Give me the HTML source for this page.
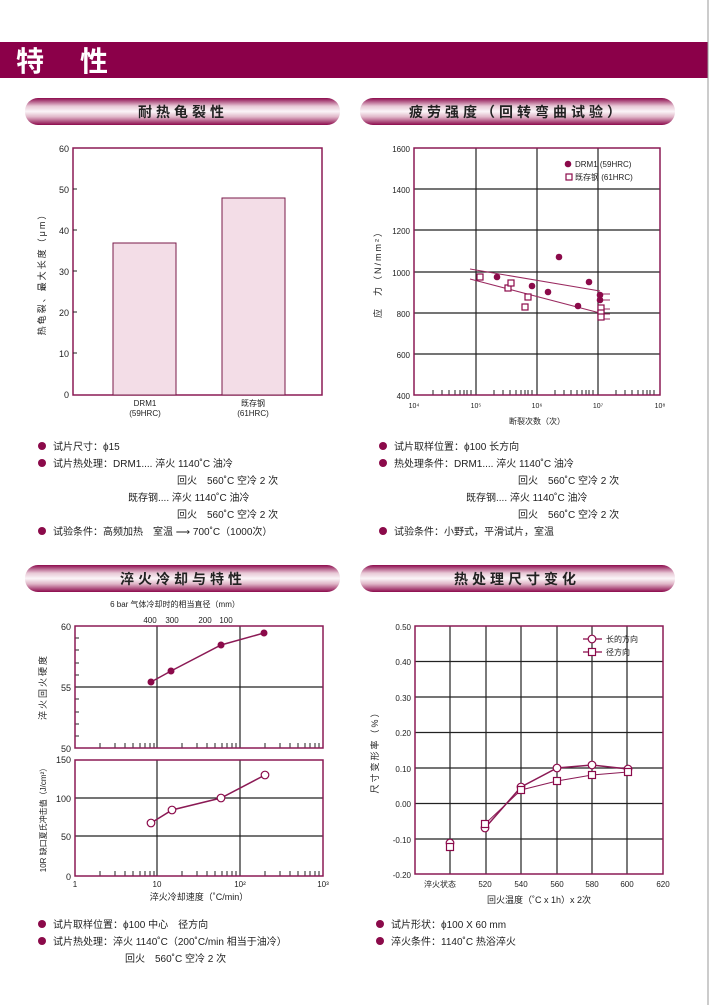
<html><head><style>body{margin:0;background:#fff}svg{display:block;font-family:"Liberation Sans","Noto Sans CJK SC",sans-serif}</style></head><body>
<svg width="710" height="1005" viewBox="0 0 710 1005">
<defs><linearGradient id="pg" x1="0" y1="0" x2="0" y2="1"><stop offset="0" stop-color="#8c0a4c"/><stop offset="0.3" stop-color="#e8c8d6"/><stop offset="0.5" stop-color="#fbf5f8"/><stop offset="0.7" stop-color="#e0b6c8"/><stop offset="1" stop-color="#8c0a4c"/></linearGradient></defs>
<rect x="0" y="42" width="708" height="36" fill="#8b0049"/>
<line x1="708" y1="0" x2="708" y2="1005" stroke="#999" stroke-width="1"/>
<text x="16" y="71" font-size="28" font-weight="bold" fill="#fff">特</text><text x="80" y="71" font-size="28" font-weight="bold" fill="#fff">性</text>
<g font-size="14" font-weight="bold" fill="#222" text-anchor="middle" letter-spacing="4">
<rect x="25" y="98" width="315" height="27" rx="13" fill="url(#pg)"/><text x="183" y="117">耐热龟裂性</text>
<rect x="360" y="98" width="315" height="27" rx="13" fill="url(#pg)"/><text x="517" y="117">疲劳强度（回转弯曲试验）</text>
<rect x="25" y="565" width="315" height="27" rx="13" fill="url(#pg)"/><text x="183" y="584">淬火冷却与特性</text>
<rect x="360" y="565" width="315" height="27" rx="13" fill="url(#pg)"/><text x="517" y="584">热处理尺寸变化</text>
</g>
<!-- chart1 -->
<g font-size="9" fill="#222">
<rect x="73" y="148" width="249" height="247" fill="none" stroke="#8b1a55" stroke-width="1.5"/>
<rect x="113" y="243" width="63" height="152" fill="#f3dde7" stroke="#7a1a4a"/>
<rect x="222" y="198" width="63" height="197" fill="#f3dde7" stroke="#7a1a4a"/>
<g text-anchor="end"><text x="69" y="152">60</text><text x="69" y="193">50</text><text x="69" y="234">40</text><text x="69" y="275">30</text><text x="69" y="316">20</text><text x="69" y="357">10</text><text x="69" y="398">0</text></g>
<g stroke="#222"><line x1="73" y1="189" x2="77" y2="189"/><line x1="73" y1="230" x2="77" y2="230"/><line x1="73" y1="271" x2="77" y2="271"/><line x1="73" y1="312" x2="77" y2="312"/><line x1="73" y1="353" x2="77" y2="353"/></g>
<text transform="translate(45,272) rotate(-90)" text-anchor="middle" font-size="9" letter-spacing="2">热龟裂、最大长度（μm）</text>
<g text-anchor="middle" font-size="8"><text x="145" y="406">DRM1</text><text x="145" y="416">(59HRC)</text><text x="253" y="406">既存钢</text><text x="253" y="416">(61HRC)</text></g>
</g>
<!-- chart2 -->
<g font-size="9" fill="#222">
<g stroke="#222" stroke-width="1.2"><line x1="414" y1="189" x2="660" y2="189"/><line x1="414" y1="230" x2="660" y2="230"/><line x1="414" y1="272" x2="660" y2="272"/><line x1="414" y1="313" x2="660" y2="313"/><line x1="414" y1="354" x2="660" y2="354"/><line x1="476" y1="148" x2="476" y2="395"/><line x1="537" y1="148" x2="537" y2="395"/><line x1="598" y1="148" x2="598" y2="395"/></g>
<g stroke="#222"><path d="M433 395v-5M442 395v-5M449 395v-5M455 395v-5M460 395v-5M464 395v-5M467 395v-5M471 395v-5M494 395v-5M503 395v-5M510 395v-5M516 395v-5M521 395v-5M525 395v-5M528 395v-5M532 395v-5M555 395v-5M564 395v-5M571 395v-5M577 395v-5M582 395v-5M586 395v-5M589 395v-5M593 395v-5M616 395v-5M625 395v-5M632 395v-5M638 395v-5M643 395v-5M647 395v-5M650 395v-5M654 395v-5"/></g>
<rect x="414" y="148" width="246" height="247" fill="none" stroke="#8b1a55" stroke-width="1.5"/>
<g text-anchor="end" font-size="8"><text x="410" y="152">1600</text><text x="410" y="193">1400</text><text x="410" y="234">1200</text><text x="410" y="276">1000</text><text x="410" y="317">800</text><text x="410" y="358">600</text><text x="410" y="399">400</text></g>
<g text-anchor="middle" font-size="7"><text x="414" y="408">10⁴</text><text x="476" y="408">10⁵</text><text x="537" y="408">10⁶</text><text x="598" y="408">10⁷</text><text x="660" y="408">10⁸</text></g>
<text x="537" y="424" text-anchor="middle" font-size="8">断裂次数（次）</text>
<text transform="translate(381,272) rotate(-90)" text-anchor="middle" letter-spacing="2">应　力（N/mm²）</text>
<g stroke="#9a2a60" fill="none"><line x1="470" y1="269" x2="600" y2="291"/><line x1="470" y1="279" x2="600" y2="313"/><path d="M600 294h10M600 300h10M600 309h10M600 314h10M600 319h10"/></g>
<g fill="#8b0a4a"><circle cx="497" cy="277" r="3.3"/><circle cx="532" cy="286" r="3.3"/><circle cx="548" cy="292" r="3.3"/><circle cx="559" cy="257" r="3.3"/><circle cx="578" cy="306" r="3.3"/><circle cx="589" cy="282" r="3.3"/><circle cx="600" cy="295" r="3.3"/><circle cx="600" cy="300" r="3.3"/><circle cx="568" cy="164" r="3.3"/></g>
<g fill="#fff" stroke="#8b0a4a" stroke-width="1.2"><rect x="477" y="274" width="6" height="6"/><rect x="505" y="285" width="6" height="6"/><rect x="508" y="280" width="6" height="6"/><rect x="525" y="294" width="6" height="6"/><rect x="522" y="304" width="6" height="6"/><rect x="598" y="305" width="6" height="6"/><rect x="598" y="310" width="6" height="6"/><rect x="598" y="314" width="6" height="6"/><rect x="566" y="174" width="6" height="6"/></g>
<text x="575" y="167" font-size="8">DRM1 (59HRC)</text><text x="575" y="180" font-size="8">既存钢 (61HRC)</text>
</g>
<!-- bullets -->
<g font-size="10" fill="#222">
<g fill="#8b0a4a"><circle cx="42" cy="446" r="4"/><circle cx="42" cy="463" r="4"/><circle cx="42" cy="531" r="4"/><circle cx="383" cy="446" r="4"/><circle cx="383" cy="463" r="4"/><circle cx="383" cy="531" r="4"/><circle cx="42" cy="924" r="4"/><circle cx="42" cy="941" r="4"/><circle cx="380" cy="924" r="4"/><circle cx="380" cy="941" r="4"/></g>
<text x="53" y="450">试片尺寸：ϕ15</text>
<text x="53" y="467">试片热处理：DRM1.... 淬火 1140˚C 油冷</text>
<text x="177" y="484">回火　560˚C 空冷 2 次</text>
<text x="128" y="501">既存钢.... 淬火 1140˚C 油冷</text>
<text x="177" y="518">回火　560˚C 空冷 2 次</text>
<text x="53" y="535">试验条件：高频加热　室温 ⟶ 700˚C（1000次）</text>
<text x="394" y="450">试片取样位置：ϕ100 长方向</text>
<text x="394" y="467">热处理条件：DRM1.... 淬火 1140˚C 油冷</text>
<text x="518" y="484">回火　560˚C 空冷 2 次</text>
<text x="466" y="501">既存钢.... 淬火 1140˚C 油冷</text>
<text x="518" y="518">回火　560˚C 空冷 2 次</text>
<text x="394" y="535">试验条件：小野式，平滑试片，室温</text>
<text x="53" y="928">试片取样位置：ϕ100 中心　径方向</text>
<text x="53" y="945">试片热处理：淬火 1140˚C（200˚C/min 相当于油冷）</text>
<text x="125" y="962">回火　560˚C 空冷 2 次</text>
<text x="391" y="928">试片形状：ϕ100 X 60 mm</text>
<text x="391" y="945">淬火条件：1140˚C 热浴淬火</text>
</g>
<!-- chart3 -->
<g font-size="9" fill="#222">
<text x="175" y="607" text-anchor="middle" font-size="8">6 bar 气体冷却时的相当直径（mm）</text>
<g text-anchor="middle" font-size="8"><text x="150" y="623">400</text><text x="172" y="623">300</text><text x="205" y="623">200</text><text x="226" y="623">100</text></g>
<g stroke="#222" stroke-width="1.2"><line x1="75" y1="687" x2="323" y2="687"/><line x1="157" y1="626" x2="157" y2="748"/><line x1="240" y1="626" x2="240" y2="748"/><line x1="75" y1="798" x2="323" y2="798"/><line x1="75" y1="836" x2="323" y2="836"/><line x1="157" y1="760" x2="157" y2="876"/><line x1="240" y1="760" x2="240" y2="876"/></g>
<g stroke="#222"><path d="M100 748v-5M115 748v-5M125 748v-5M133 748v-5M140 748v-5M145 748v-5M150 748v-5M154 748v-5M182 748v-5M197 748v-5M207 748v-5M215 748v-5M222 748v-5M227 748v-5M232 748v-5M236 748v-5M265 748v-5M280 748v-5M290 748v-5M298 748v-5M305 748v-5M310 748v-5M315 748v-5M319 748v-5"/><path d="M100 876v-5M115 876v-5M125 876v-5M133 876v-5M140 876v-5M145 876v-5M150 876v-5M154 876v-5M182 876v-5M197 876v-5M207 876v-5M215 876v-5M222 876v-5M227 876v-5M232 876v-5M236 876v-5M265 876v-5M280 876v-5M290 876v-5M298 876v-5M305 876v-5M310 876v-5M315 876v-5M319 876v-5"/><path d="M75 638h4M75 650h4M75 663h4M75 675h4M75 699h4M75 712h4M75 724h4M75 736h4"/></g>
<rect x="75" y="626" width="248" height="122" fill="none" stroke="#8b1a55" stroke-width="1.5"/>
<rect x="75" y="760" width="248" height="116" fill="none" stroke="#8b1a55" stroke-width="1.5"/>
<g text-anchor="end"><text x="71" y="630">60</text><text x="71" y="691">55</text><text x="71" y="752">50</text><text x="71" y="763">150</text><text x="71" y="802">100</text><text x="71" y="840">50</text><text x="71" y="880">0</text></g>
<g text-anchor="middle" font-size="8"><text x="75" y="887">1</text><text x="157" y="887">10</text><text x="240" y="887">10²</text><text x="323" y="887">10³</text></g>
<text x="199" y="900" text-anchor="middle">淬火冷却速度（˚C/min）</text>
<text transform="translate(46,687) rotate(-90)" text-anchor="middle" letter-spacing="2">淬火回火硬度</text>
<text transform="translate(46,818) rotate(-90)" text-anchor="middle" font-size="8">10R 缺口夏氏冲击值（J/cm²）</text>
<polyline points="151,682 171,671 221,645 264,633" fill="none" stroke="#8b1a55" stroke-width="1.5"/>
<g fill="#8b0a4a"><circle cx="151" cy="682" r="3.5"/><circle cx="171" cy="671" r="3.5"/><circle cx="221" cy="645" r="3.5"/><circle cx="264" cy="633" r="3.5"/></g>
<polyline points="151,823 172,810 221,798 265,775" fill="none" stroke="#8b1a55" stroke-width="1.5"/>
<g fill="#fff" stroke="#8b0a4a" stroke-width="1.2"><circle cx="151" cy="823" r="3.8"/><circle cx="172" cy="810" r="3.8"/><circle cx="221" cy="798" r="3.8"/><circle cx="265" cy="775" r="3.8"/></g>
</g>
<!-- chart4 -->
<g font-size="9" fill="#222">
<g stroke="#222" stroke-width="1.2"><path d="M415 661.5H663M415 697H663M415 732.5H663M415 768H663M415 803.5H663M415 839H663M450 626V874M486 626V874M521 626V874M557 626V874M592 626V874M627 626V874"/></g>
<rect x="415" y="626" width="248" height="248" fill="none" stroke="#8b1a55" stroke-width="1.5"/>
<g text-anchor="end" font-size="8"><text x="411" y="630">0.50</text><text x="411" y="665">0.40</text><text x="411" y="701">0.30</text><text x="411" y="736">0.20</text><text x="411" y="772">0.10</text><text x="411" y="807">0.00</text><text x="411" y="843">-0.10</text><text x="411" y="878">-0.20</text></g>
<g text-anchor="middle" font-size="8"><text x="440" y="887">淬火状态</text><text x="485" y="887">520</text><text x="521" y="887">540</text><text x="557" y="887">560</text><text x="592" y="887">580</text><text x="627" y="887">600</text><text x="663" y="887">620</text></g>
<text x="539" y="903" text-anchor="middle">回火温度（˚C x 1h）x 2次</text>
<text transform="translate(378,750) rotate(-90)" text-anchor="middle" letter-spacing="2">尺寸变形率（%）</text>
<polyline points="485,828 521,787 557,768 592,765 628,769" fill="none" stroke="#8b1a55" stroke-width="1.5"/>
<polyline points="485,824 521,790 557,781 592,775 628,772" fill="none" stroke="#8b1a55" stroke-width="1"/>
<g fill="#fff" stroke="#8b0a4a" stroke-width="1.2"><circle cx="450" cy="843" r="3.8"/><circle cx="485" cy="828" r="3.8"/><circle cx="521" cy="787" r="3.8"/><circle cx="557" cy="768" r="3.8"/><circle cx="592" cy="765" r="3.8"/><circle cx="628" cy="769" r="3.8"/>
<rect x="446.5" y="843.5" width="7" height="7"/><rect x="481.5" y="820.5" width="7" height="7"/><rect x="517.5" y="786.5" width="7" height="7"/><rect x="553.5" y="777.5" width="7" height="7"/><rect x="588.5" y="771.5" width="7" height="7"/><rect x="624.5" y="768.5" width="7" height="7"/>
<line x1="583" y1="639" x2="602" y2="639"/><circle cx="592" cy="639" r="3.8"/><line x1="583" y1="652" x2="602" y2="652"/><rect x="588.5" y="648.5" width="7" height="7"/></g>
<text x="606" y="642" font-size="8">长的方向</text><text x="606" y="655" font-size="8">径方向</text>
</g>
</svg>
</body></html>
